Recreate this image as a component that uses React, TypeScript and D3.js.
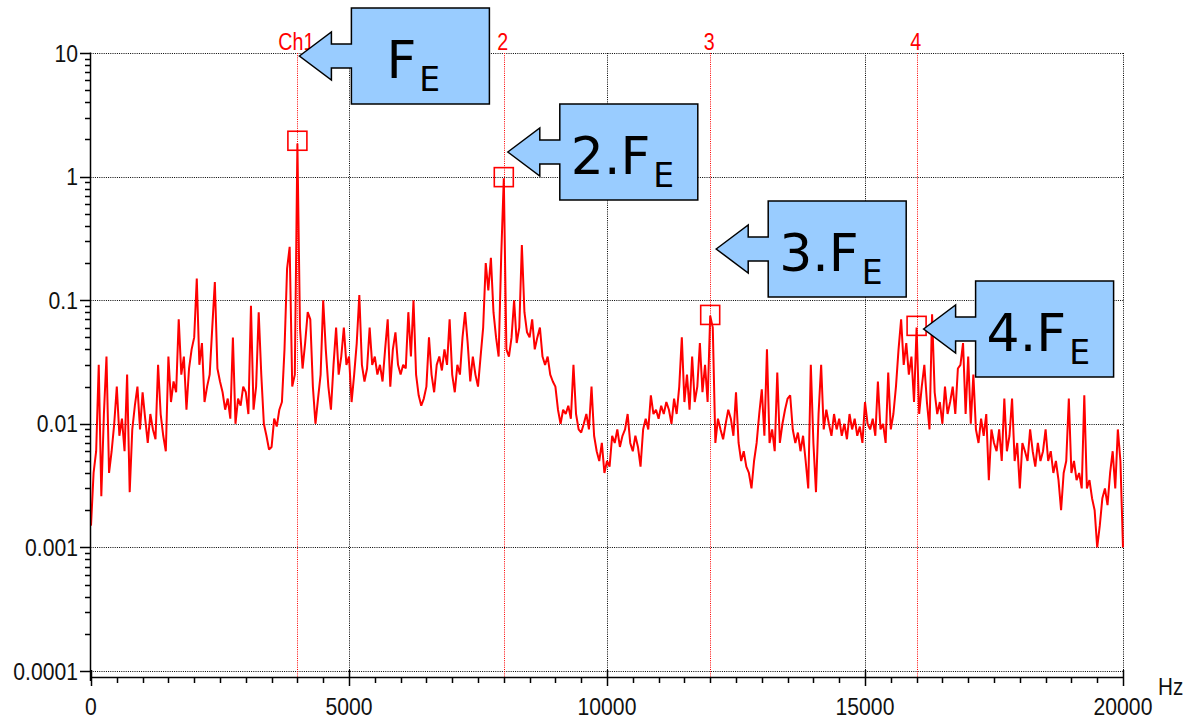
import React from 'react';
import * as d3 from 'd3';

// ---------- data ----------
const maxHz = 20000;
const xTicks = [0, 5000, 10000, 15000, 20000];
const yTicks = [10, 1, 0.1, 0.01, 0.001, 0.0001];
const yTickLabels = ['10', '1', '0.1', '0.01', '0.001', '0.0001'];
const harmonicHz = [4000, 8000, 12000, 16000];
const harmonicAmp = [1.95, 0.99, 0.076, 0.062];
const cursorLabels = ['Ch1', '2', '3', '4'];
const calloutPrefix = ['', '2.', '3.', '4.'];

// amplitude spectrum, equally spaced bins from 0 to 20000 Hz (50 Hz)
const spectrumAmp = [
  0.0015, 0.004, 0.006, 0.03, 0.0026, 0.012, 0.035, 0.004, 0.006, 0.01, 0.02, 0.008, 0.011, 0.006, 0.025, 0.0028, 0.009, 0.014, 0.02, 0.009,
  0.018, 0.011, 0.007, 0.012, 0.009, 0.0075, 0.03, 0.012, 0.008, 0.006, 0.035, 0.015, 0.022, 0.018, 0.07, 0.025, 0.035, 0.013, 0.028, 0.04,
  0.05, 0.15, 0.03, 0.045, 0.015, 0.02, 0.025, 0.06, 0.14, 0.028, 0.022, 0.018, 0.013, 0.016, 0.011, 0.05, 0.01, 0.016, 0.014, 0.02,
  0.018, 0.012, 0.09, 0.013, 0.02, 0.08, 0.025, 0.01, 0.008, 0.0062, 0.0065, 0.011, 0.0095, 0.013, 0.015, 0.04, 0.18, 0.27, 0.02, 0.025,
  1.85,
  0.06, 0.028, 0.045, 0.08, 0.07, 0.02, 0.01, 0.016, 0.025, 0.1, 0.04, 0.02, 0.013, 0.03, 0.06, 0.025, 0.035, 0.06, 0.03,
  0.035, 0.015, 0.025, 0.045, 0.11, 0.03, 0.022, 0.028, 0.06, 0.03, 0.035, 0.025, 0.03, 0.022, 0.04, 0.07, 0.02, 0.04, 0.055, 0.03,
  0.025, 0.03, 0.028, 0.08, 0.035, 0.1, 0.025, 0.017, 0.014, 0.016, 0.02, 0.05, 0.025, 0.018, 0.03, 0.035, 0.027, 0.04, 0.03, 0.07,
  0.025, 0.018, 0.03, 0.025, 0.05, 0.08, 0.045, 0.022, 0.035, 0.025, 0.02, 0.035, 0.06, 0.2, 0.12, 0.22, 0.08, 0.05, 0.035, 0.23,
  0.97,
  0.04, 0.035, 0.05, 0.1, 0.045, 0.06, 0.28, 0.08, 0.055, 0.05, 0.07, 0.04, 0.05, 0.06, 0.035, 0.03, 0.035, 0.025, 0.022,
  0.02, 0.013, 0.01, 0.013, 0.012, 0.014, 0.011, 0.03, 0.012, 0.009, 0.0085, 0.01, 0.012, 0.009, 0.02, 0.008, 0.006, 0.005, 0.007, 0.004,
  0.005, 0.0045, 0.008, 0.007, 0.009, 0.0065, 0.008, 0.009, 0.012, 0.007, 0.006, 0.008, 0.0065, 0.0045, 0.009, 0.011, 0.009, 0.017, 0.012, 0.013,
  0.011, 0.014, 0.012, 0.015, 0.013, 0.01, 0.016, 0.012, 0.02, 0.05, 0.015, 0.025, 0.013, 0.035, 0.015, 0.02, 0.045, 0.018, 0.03, 0.015,
  0.075,
  0.06, 0.007, 0.011, 0.009, 0.0075, 0.01, 0.013, 0.011, 0.008, 0.018, 0.007, 0.005, 0.006, 0.0045, 0.004, 0.003, 0.005, 0.007, 0.012,
  0.019, 0.008, 0.04, 0.007, 0.009, 0.006, 0.026, 0.007, 0.01, 0.013, 0.016, 0.017, 0.009, 0.007, 0.0085, 0.006, 0.008, 0.005, 0.003, 0.03,
  0.007, 0.0028, 0.012, 0.03, 0.009, 0.013, 0.01, 0.008, 0.012, 0.009, 0.011, 0.008, 0.01, 0.0075, 0.012, 0.009, 0.011, 0.008, 0.0095, 0.007,
  0.015, 0.01, 0.009, 0.011, 0.008, 0.022, 0.009, 0.01, 0.007, 0.026, 0.009, 0.012, 0.02, 0.04, 0.07, 0.03, 0.045, 0.025, 0.035, 0.015,
  0.06,
  0.012, 0.02, 0.03, 0.015, 0.009, 0.077, 0.018, 0.012, 0.015, 0.01, 0.02, 0.012, 0.015, 0.02, 0.012, 0.028, 0.03, 0.045, 0.012,
  0.035, 0.01, 0.025, 0.009, 0.007, 0.011, 0.008, 0.012, 0.0035, 0.009, 0.007, 0.006, 0.009, 0.005, 0.016, 0.006, 0.008, 0.016, 0.005, 0.007,
  0.003, 0.007, 0.006, 0.005, 0.009, 0.006, 0.0045, 0.007, 0.005, 0.006, 0.009, 0.005, 0.006, 0.004, 0.005, 0.0035, 0.002, 0.004, 0.005, 0.016,
  0.004, 0.005, 0.0035, 0.004, 0.003, 0.017, 0.003, 0.0035, 0.0025, 0.002, 0.001, 0.0015, 0.0025, 0.003, 0.0022, 0.004, 0.006, 0.003, 0.009, 0.005, 0.001,
];

// ---------- layout ----------
const W = 1185;
const H = 720;
const L = 91, R = 1123, T = 53, B = 671;
const AXIS_Y = 677.5;
const AXIS_X = 90.5;

const x = d3.scaleLinear().domain([0, maxHz]).range([L, R]);
const y = d3.scaleLog().domain([0.0001, 10]).range([B, T]);

const calloutBoxes = [
  { top: 8, tipDx: 2 },
  { top: 104, tipDx: 4 },
  { top: 201, tipDx: 6 },
  { top: 281, tipDx: 7 },
];

const tickFont = '"Liberation Sans", Arial, sans-serif';
const calloutFont = '"DejaVu Sans", Verdana, sans-serif';

function calloutPath(tipX: number, top: number) {
  const cy = top + 48;
  const headR = tipX + 32;
  const boxL = tipX + 52;
  const boxR = boxL + 138;
  const bot = top + 96;
  const pts: [number, number][] = [
    [tipX, cy], [headR, cy - 24], [headR, cy - 12], [boxL, cy - 12], [boxL, top],
    [boxR, top], [boxR, bot], [boxL, bot], [boxL, cy + 12], [headR, cy + 12], [headR, cy + 24],
  ];
  return 'M' + pts.map((p) => p.join(',')).join('L') + 'Z';
}

export default function App() {
  const n = spectrumAmp.length;
  const step = maxHz / (n - 1);
  const line = d3
    .line<number>()
    .x((_, i) => x(i * step))
    .y((d) => y(d));

  const minorY: number[] = [];
  for (let e = -4; e <= 0; e++) for (let k = 2; k <= 9; k++) minorY.push(k * Math.pow(10, e));
  const minorX = d3.range(0, maxHz + 1, 500).filter((v) => v % 5000 !== 0);

  return (
    <svg
      width={W}
      height={H}
      viewBox={`0 0 ${W} ${H}`}
      style={{ position: 'absolute', left: 0, top: 0, background: '#fff' }}
    >
      <rect width={W} height={H} fill="#fff" />
      {/* grid */}
      <g stroke="#000" strokeWidth={1} strokeDasharray="1 1.2" fill="none">
        {yTicks.map((v) => (
          <line key={'gy' + v} x1={AXIS_X} x2={R + 0.5} y1={Math.round(y(v)) + 0.5} y2={Math.round(y(v)) + 0.5} />
        ))}
        {xTicks.slice(1).map((v) => (
          <line key={'gx' + v} x1={Math.round(x(v)) + 0.5} x2={Math.round(x(v)) + 0.5} y1={T} y2={AXIS_Y} />
        ))}
      </g>
      {/* harmonic cursors */}
      <g>
        {harmonicHz.map((hz, i) => (
          <g key={'c' + hz}>
            <line
              x1={Math.round(x(hz)) + 0.5}
              x2={Math.round(x(hz)) + 0.5}
              y1={T}
              y2={AXIS_Y}
              stroke="#ff0000"
              strokeWidth={1}
              strokeDasharray="1 1.2"
            />
            <text
              transform={`translate(${x(hz) - 1},50) scale(0.82,1)`}
              textAnchor="middle"
              fontFamily={tickFont}
              fontSize={24}
              fill="#ff0000"
            >
              {cursorLabels[i]}
            </text>
          </g>
        ))}
      </g>
      {/* spectrum */}
      <path
        d={line(spectrumAmp) || ''}
        fill="none"
        stroke="#ff0000"
        strokeWidth={2}
        strokeLinejoin="bevel"
      />
      {/* harmonic markers */}
      <g fill="none" stroke="#ff0000" strokeWidth={1.6}>
        {harmonicHz.map((hz, i) => (
          <rect key={'m' + hz} x={x(hz) - 9.5} y={y(harmonicAmp[i]) - 9.5} width={19} height={19} />
        ))}
      </g>
      {/* axes */}
      <g stroke="#000" strokeWidth={1.5} fill="none">
        <line x1={AXIS_X} x2={AXIS_X} y1={T - 0.5} y2={681} />
        <line x1={AXIS_X} x2={R + 1} y1={AXIS_Y} y2={AXIS_Y} />
        {yTicks.map((v) => (
          <line key={'ty' + v} x1={80} x2={AXIS_X} y1={Math.round(y(v)) + 0.5} y2={Math.round(y(v)) + 0.5} />
        ))}
        {minorY.map((v, i) => (
          <line key={'my' + i} x1={85} x2={AXIS_X} y1={Math.round(y(v)) + 0.5} y2={Math.round(y(v)) + 0.5} />
        ))}
        {xTicks.map((v) => (
          <line key={'tx' + v} x1={Math.round(x(v)) + 0.5} x2={Math.round(x(v)) + 0.5} y1={670} y2={686} />
        ))}
        {minorX.map((v) => (
          <line key={'mx' + v} x1={Math.round(x(v)) + 0.5} x2={Math.round(x(v)) + 0.5} y1={AXIS_Y} y2={683} />
        ))}
      </g>
      {/* tick labels */}
      <g fontFamily={tickFont} fontSize={23} fill="#111">
        {yTicks.map((v, i) => (
          <text key={'ly' + v} transform={`translate(78,${y(v) + 8.5}) scale(0.92,1)`} textAnchor="end">
            {yTickLabels[i]}
          </text>
        ))}
        {xTicks.map((v) => (
          <text key={'lx' + v} transform={`translate(${x(v)},715) scale(0.92,1)`} textAnchor="middle">
            {d3.format('d')(v)}
          </text>
        ))}
        <text transform="translate(1158,695) scale(0.9,1)">Hz</text>
      </g>
      {/* callouts */}
      <g>
        {harmonicHz.map((hz, i) => {
          const tipX = x(hz) + calloutBoxes[i].tipDx;
          const top = calloutBoxes[i].top;
          const boxL = tipX + 52;
          const tx = calloutPrefix[i] ? boxL + 11 : boxL + 35;
          return (
            <g key={'co' + hz}>
              <path d={calloutPath(tipX, top)} fill="#99ccff" stroke="#000" strokeWidth={1.5} strokeLinejoin="miter" />
              <text x={tx} y={top + 70} fontFamily={calloutFont} fontSize={52} fill="#000">
                {calloutPrefix[i]}F
                <tspan dx={3} dy={13} fontSize={33}>E</tspan>
              </text>
            </g>
          );
        })}
      </g>
    </svg>
  );
}
